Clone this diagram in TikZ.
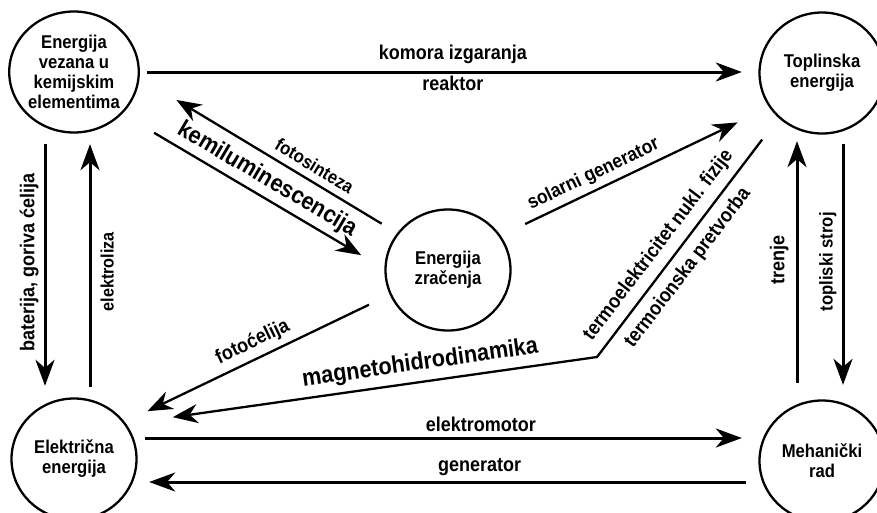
\documentclass[tikz,border=0pt]{standalone}
\usepackage{fontspec}
\setmainfont{Liberation Sans}[FakeStretch=0.9]
\usetikzlibrary{arrows.meta,shapes.geometric}

\begin{document}
\begin{tikzpicture}[x=1pt,y=-1pt,
  stanje/.style={ellipse,draw,line width=2.3pt,minimum width=125pt,minimum height=121pt,
    inner sep=0pt,align=center,font=\fontsize{18.5}{20}\selectfont\bfseries},
  tok/.style={line width=3pt,-{Stealth[length=26pt,width=19pt,inset=8pt]}},
  kos/.style={line width=2.3pt,-{Stealth[length=25pt,width=19pt,inset=8pt]}},
  opis/.style={font=\fontsize{#1}{#1}\selectfont\bfseries,inner sep=2pt},
  opis/.default=20,
  gore/.style={rotate=90,anchor=south,inner sep=#1},
  dolje/.style={rotate=90,anchor=north,inner sep=#1}
]
\useasboundingbox (0,0) rectangle (877,512);

% oblici energije
\node[stanje] (kem) at (74,72) {Energija\\vezana u\\kemijskim\\elementima};
\node[stanje] (topl) at (822,73) {Toplinska\\energija};
\node[stanje] (zr) at (448,270) {Energija\\zračenja};
\node[stanje] (el) at (74,459) {Električna\\energija};
\node[stanje] (meh) at (822,461) {Mehanički\\rad};
\coordinate (jn) at (597,357);

% vodoravne veze
\draw[tok,shorten <=7.5pt,shorten >=16.5pt] (kem.east)
  -- node[opis,pos=.506,above=5pt] {komora izgaranja}
     node[opis,pos=.506,below=1pt] {reaktor} (kem.east -| topl.west);
\draw[tok,shorten <=7.5pt,shorten >=16.5pt] ([yshift=21pt]el.east)
  -- node[opis,pos=.553,above=3pt] {elektromotor} ([yshift=21pt]el.east -| meh.west);
\draw[tok,shorten <=12.5pt,shorten >=11.5pt] ([yshift=-21pt]meh.west)
  -- node[opis,pos=.449,above=3pt] {generator} ([yshift=-21pt]meh.west -| el.east);

% okomite veze
\draw[tok,shorten <=10.5pt,shorten >=11.5pt] ([xshift=-29pt]kem.south)
  -- node[opis,pos=.49,gore=5pt] {baterija, goriva ćelija} ([xshift=-29pt]el.north);
\draw[tok,shorten <=10.5pt,shorten >=10.5pt] ([xshift=16pt]el.north)
  -- node[opis=18,pos=.476,dolje=9pt] {elektroliza} ([xshift=16pt]kem.south);
\draw[tok,shorten <=16.5pt,shorten >=6.5pt] ([xshift=-25pt]meh.north)
  -- node[opis,pos=.526,gore=7pt] {trenje} ([xshift=-25pt]meh.north |- topl.south);
\draw[tok,shorten <=9.5pt,shorten >=14.5pt] ([xshift=21pt]topl.south)
  -- node[opis=18.5,pos=.48,gore=5pt] {topliski stroj} ([xshift=21pt]topl.south |- meh.north);

% kose veze
\draw[kos,shorten <=18pt,shorten >=43pt] (zr.144)
  -- node[opis=18.5,pos=.35,sloped,above=5pt] {fotosinteza} (kem.-5);
\draw[kos,shorten <=37pt,shorten >=27pt] (kem.-41)
  -- node[opis=24,pos=.52,sloped,above=3pt] {kemiluminescencija} (zr.179);
\draw[kos,shorten <=27pt,shorten >=35pt] (zr.33)
  -- node[opis=19.5,pos=.37,sloped,above=3pt] {solarni generator} (topl.-147);
\draw[kos,shorten <=23pt,shorten >=25pt] (zr.-157)
  -- node[opis,pos=.49,sloped,above=4pt] {fotoćelija} (el.36);
\draw[kos,shorten <=27pt,shorten >=47pt] (topl.-134.5)
  -- node[opis,pos=.58,sloped,above=6pt] {termoelektricitet nukl. fizije}
     node[opis,pos=.58,sloped,below=6pt] {termoionska pretvorba} (jn)
  -- node[opis=24,pos=.37,sloped,above=4pt] {magnetohidrodinamika} (el.34);
\end{tikzpicture}
\end{document}
